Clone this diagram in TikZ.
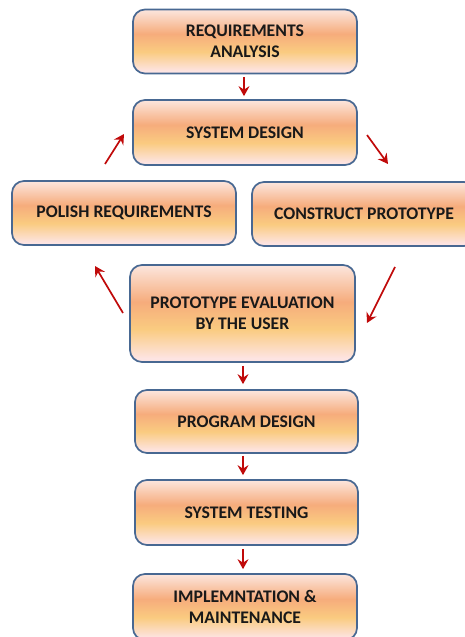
\documentclass[tikz,border=0pt]{standalone}
\usepackage{fontspec}
\setmainfont{Carlito}
\usetikzlibrary{arrows.meta,calc}
\definecolor{boxline}{RGB}{72,104,146}
\definecolor{arrred}{RGB}{192,10,10}
\definecolor{txt}{RGB}{25,25,25}
\definecolor{spink}{RGB}{253,228,226}
\definecolor{syel}{RGB}{250,203,128}
\definecolor{sorg}{RGB}{246,172,124}
\definecolor{stop}{RGB}{252,230,222}
\pgfdeclareverticalshading{boxshade}{100bp}{color(0bp)=(spink); color(27bp)=(spink); color(42bp)=(syel); color(56bp)=(sorg); color(75bp)=(stop); color(100bp)=(stop)}
\begin{document}
\begin{tikzpicture}[x=1bp,y=-1bp,
  stepbox/.style={draw=boxline, line width=1.7bp, rounded corners=12bp, shading=boxshade,
    minimum width=224bp, minimum height=64bp, align=center, inner sep=2bp,
    font=\fontsize{17.7bp}{21bp}\selectfont\bfseries, text=txt},
  arr/.style={draw=arrred, line width=1.7bp, -{Stealth[length=10bp,width=11bp,inset=3.5bp]}}]
\clip (0,0) rectangle (465,637);
\useasboundingbox (0,0) rectangle (465,637);
\node[stepbox] (req) at (245,41.5) {REQUIREMENTS\\ANALYSIS};
\node[stepbox, minimum height=65bp] (sd) at (245,132.5) {SYSTEM DESIGN};
\node[stepbox] (pol) at (124,213) {POLISH REQUIREMENTS};
\node[stepbox] (con) at (364,214) {CONSTRUCT PROTOTYPE};
\node[stepbox, minimum width=225bp, minimum height=97bp] (pe) at (242.5,313.5) {PROTOTYPE EVALUATION\\BY THE USER};
\node[stepbox, minimum width=223bp, minimum height=63bp] (pd) at (246.5,421.5) {PROGRAM DESIGN};
\node[stepbox, minimum width=223bp, minimum height=65bp] (st) at (246.5,512.5) {SYSTEM TESTING};
\node[stepbox, minimum height=66bp] (im) at (245,607) {IMPLEMNTATION \&\\MAINTENANCE};
% vertical arrows
\draw[arr, shorten <=3bp, shorten >=3bp] (req.south -| 244,0) -- (sd.north -| 244,0);
\draw[arr, shorten <=3bp, shorten >=5bp] (pe.south -| 243,0) -- (pd.north -| 243,0);
\draw[arr, shorten <=2bp, shorten >=4bp] (pd.south -| 243,0) -- (st.north -| 243,0);
\draw[arr, shorten <=3bp, shorten >=4bp] (st.south -| 243,0) -- (im.north -| 243,0);
% diagonal arrows
\coordinate (a1s) at (367,135); \coordinate (a1e) at (388,164);
\coordinate (a2s) at (395,267); \coordinate (a2e) at (367,323);
\coordinate (a3s) at (123,313); \coordinate (a3e) at (95,266);
\coordinate (a4s) at (105,164); \coordinate (a4e) at (124,134);
\draw[arr] (a1s) -- (a1e);
\draw[arr] (a2s) -- (a2e);
\draw[arr] (a3s) -- (a3e);
\draw[arr] (a4s) -- (a4e);
\end{tikzpicture}
\end{document}
